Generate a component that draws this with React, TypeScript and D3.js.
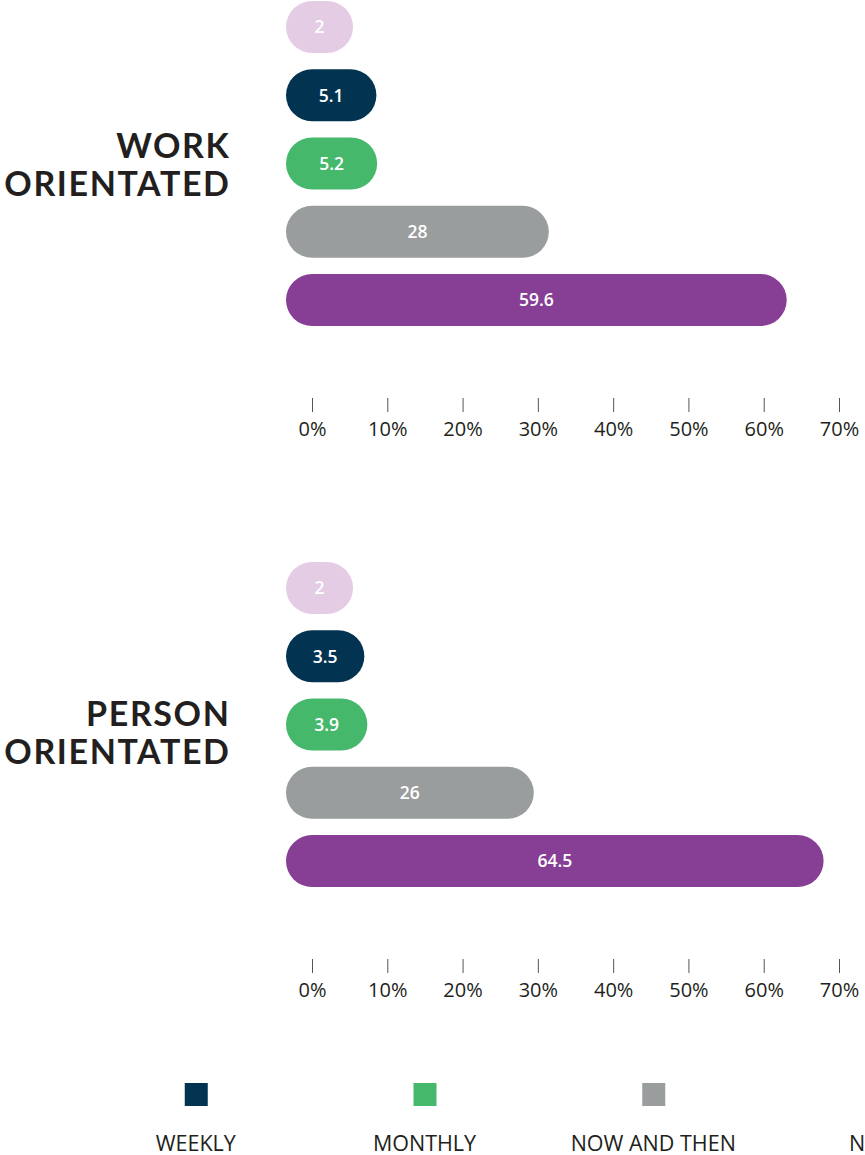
import React, { useEffect, useRef } from "react";
import * as d3 from "d3";

// response categories, in the order the bars are stacked top-to-bottom
const categories = ["Daily", "Weekly", "Monthly", "Now and then", "Never"];
const legendLabels = ["DAILY", "WEEKLY", "MONTHLY", "NOW AND THEN", "NEVER"];
const colors = ["#e4cde4", "#023451", "#46b86b", "#9a9d9d", "#863f95"];

const panelTitles = [["WORK", "ORIENTATED"], ["PERSON", "ORIENTATED"]];
const workValues = [2, 5.1, 5.2, 28, 59.6];
const personValues = [2, 3.5, 3.9, 26, 64.5];
const tickValues = [0, 10, 20, 30, 40, 50, 60, 70];

const W = 865;
const H = 1155;

export default function App() {
  const ref = useRef<SVGSVGElement>(null);

  useEffect(() => {
    const svg = d3.select(ref.current);
    svg.selectAll("*").remove();

    const x = d3.scaleLinear().domain([0, 70]).range([312, 839]);
    const barH = 52;
    const panels = [
      { title: panelTitles[0], values: workValues, top: 0, titleDy: -6 },
      { title: panelTitles[1], values: personValues, top: 561, titleDy: 1 },
    ];

    panels.forEach((p) => {
      const y = d3.scaleBand<string>().domain(categories)
        .range([p.top + 1, p.top + 326]).paddingInner(0.24).paddingOuter(0);
      const g = svg.append("g");

      const rows = p.values.map((v, i) => ({ v, cat: categories[i], color: colors[i] }));

      // pill bars: thick round-capped lines from 0 to value
      g.selectAll("line.bar").data(rows).join("line")
        .attr("class", "bar")
        .attr("x1", x(0)).attr("x2", (d) => x(d.v))
        .attr("y1", (d) => y(d.cat)! + y.bandwidth() / 2)
        .attr("y2", (d) => y(d.cat)! + y.bandwidth() / 2)
        .attr("stroke", (d) => d.color)
        .attr("stroke-width", barH)
        .attr("stroke-linecap", "round");

      g.selectAll("text.val").data(rows).join("text")
        .attr("class", "val")
        .attr("x", (d) => (x(0) + x(d.v)) / 2)
        .attr("y", (d) => y(d.cat)! + y.bandwidth() / 2)
        .attr("dy", "0.36em")
        .attr("text-anchor", "middle")
        .attr("fill", "#fff")
        .attr("font-family", "'Open Sans', sans-serif")
        .attr("font-weight", 600)
        .attr("font-size", 17.5)
        .text((d) => d.v);

      const midY = y(categories[2])! + y.bandwidth() / 2 + p.titleDy;
      const t = g.append("text")
        .attr("text-anchor", "end")
        .attr("fill", "#231f20")
        .attr("font-family", "Lato, sans-serif")
        .attr("font-weight", 700)
        .attr("font-size", 34)
        .attr("letter-spacing", 1.6);
      t.append("tspan").attr("x", 230.5).attr("y", midY).text(p.title[0]);
      t.append("tspan").attr("x", 230.5).attr("y", midY + 38).text(p.title[1]);

      const axis = g.append("g")
        .attr("transform", `translate(0,${p.top + 398})`)
        .call(d3.axisBottom(x).tickValues(tickValues).tickSize(14).tickPadding(10)
          .tickFormat((d) => `${d}%`));
      axis.select(".domain").remove();
      axis.selectAll("line").attr("stroke", "#555").attr("stroke-width", 1);
      axis.selectAll("text")
        .attr("fill", "#231f20")
        .attr("font-family", "'Open Sans', sans-serif")
        .attr("font-weight", 500)
        .attr("font-size", 20);
    });

    // legend (runs off both sides of the page)
    const lx = d3.scalePoint<string>().domain(legendLabels).range([-33, 882]);
    const lg = svg.append("g");
    lg.selectAll("rect").data(legendLabels).join("rect")
      .attr("x", (d) => lx(d)! - 11).attr("y", 1083)
      .attr("width", 23).attr("height", 23)
      .attr("fill", (_, i) => colors[i]);
    lg.selectAll("text").data(legendLabels).join("text")
      .attr("x", (d) => lx(d)!).attr("y", 1151)
      .attr("text-anchor", "middle")
      .attr("fill", "#231f20")
      .attr("font-family", "'Open Sans', sans-serif")
      .attr("font-size", 21.5)
      .text((d) => d);
  }, []);

  return (
    <svg ref={ref} width={W} height={H}
      style={{ position: "absolute", left: 0, top: 0, background: "#fff" }} />
  );
}
